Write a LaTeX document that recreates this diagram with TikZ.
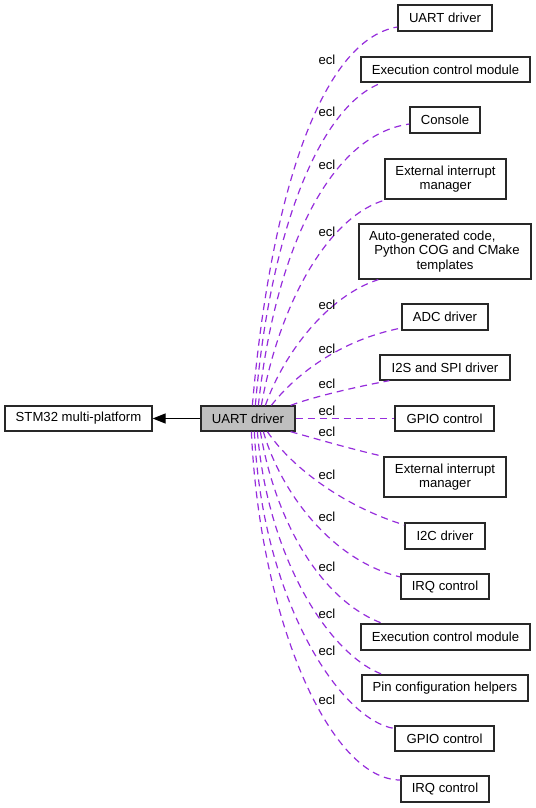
\documentclass[tikz,border=0pt]{standalone}
\usepackage{fontspec}
\setmainfont{Liberation Sans}
\usetikzlibrary{arrows.meta,calc}
\definecolor{edgec}{RGB}{150,45,220}
\definecolor{mainfill}{RGB}{191,191,191}
\definecolor{boxline}{RGB}{40,40,40}
\begin{document}
\begin{tikzpicture}[x=0.75pt,y=-0.75pt,
  box/.style={draw=boxline,line width=0.95pt,inner sep=0pt,align=center,
    font=\fontsize{9.85}{10.8}\selectfont},
  sz/.style 2 args={minimum width=#1*0.75pt,minimum height=#2*0.75pt},
  edge/.style={draw=edgec,line width=0.9pt,dash pattern=on 5.25pt off 3.75pt},
  lbl/.style={font=\fontsize{9.85}{10.8}\selectfont,inner sep=0pt}]
\useasboundingbox (0,0) rectangle (536,808);

% main nodes
\node[box,sz={147}{25}] (s) at (78.5,418.5) {STM32 multi-platform};
\node[box,sz={94}{25},fill=mainfill] (m) at (248,418.5) {UART driver};

% right-hand nodes
\node[box,sz={94}{26}]  (t1)  at (445,18)    {UART driver};
\node[box,sz={169}{25}] (t2)  at (445.5,69.5) {Execution control module};
\node[box,sz={70}{26}]  (t3)  at (445,120)   {Console};
\node[box,sz={121}{40}] (t4)  at (445.5,179) {External interrupt\\manager};
\node[box,sz={172}{55}] (t5)  at (445,251.5) {Auto-generated code,\hspace*{19pt}\\\hspace*{3pt}Python COG and CMake\\templates};
\node[box,sz={86}{26}]  (t6)  at (445,317)   {ADC driver};
\node[box,sz={130}{25}] (t7)  at (445,367.5) {I2S and SPI driver};
\node[box,sz={99}{25}]  (t8)  at (444.5,418.5) {GPIO control};
\node[box,sz={122}{40}] (t9)  at (445,477)   {External interrupt\\manager};
\node[box,sz={80}{26}]  (t10) at (445,536)   {I2C driver};
\node[box,sz={88}{25}]  (t11) at (445,586.5) {IRQ control};
\node[box,sz={169}{26}] (t12) at (445.5,637) {Execution control module};
\node[box,sz={166}{26}] (t13) at (445,688)   {Pin configuration helpers};
\node[box,sz={99}{25}]  (t14) at (444.5,738.5) {GPIO control};
\node[box,sz={88}{26}]  (t15) at (445,789)   {IRQ control};

% arrow to parent
\draw[line width=0.95pt,-{Triangle[length=9.75pt,width=7.5pt]}] (m.west) -- (s.east);

% edges above
\draw[edge] ($(m.north west)+(52,0)$) .. controls (270,200) and (320,40) .. ($(t1.west)+(0,9)$);
\draw[edge] ($(m.north west)+(55,0)$) .. controls (270,230) and (320,105) .. ($(t2.south west)+(22,0)$);
\draw[edge] ($(m.north west)+(58,0)$) .. controls (275,250) and (330,135) .. ($(t3.west)+(0,4)$);
\draw[edge] ($(m.north west)+(61,0)$) .. controls (280,300) and (330,215) .. ($(t4.south west)+(2,0)$);
\draw[edge] ($(m.north west)+(65,0)$) .. controls (285,350) and (330,295) .. ($(t5.south west)+(20,0)$);
\draw[edge] ($(m.north west)+(71,0)$) .. controls (295,375) and (340,340) .. ($(t6.west)+(0,11)$);
\draw[edge] ($(m.north east)+(-5,0)$) .. controls (310,398) and (350,388) .. ($(t7.south west)+(10,0)$);
\draw[edge] (m.east) -- (t8.west);
% edges below
\draw[edge] ($(m.south east)+(-5,0)$) .. controls (320,440) and (355,450) .. (t9.north west);
\draw[edge] ($(m.south west)+(67,0)$) .. controls (290,465) and (340,505) .. ($(t10.west)+(0,-11)$);
\draw[edge] ($(m.south west)+(63,0)$) .. controls (280,490) and (330,560) .. ($(t11.west)+(0,-9.5)$);
\draw[edge] ($(m.south west)+(60,0)$) .. controls (275,520) and (320,600) .. ($(t12.north west)+(22,0)$);
\draw[edge] ($(m.south west)+(57,0)$) .. controls (268,560) and (330,655) .. ($(t13.north west)+(21,0)$);
\draw[edge] ($(m.south west)+(54,0)$) .. controls (262,600) and (340,720) .. ($(t14.west)+(0,-10)$);
\draw[edge] ($(m.south west)+(51,0)$) .. controls (260,620) and (330,780) .. ($(t15.west)+(0,-9)$);

% labels
\foreach \yy/\nm in {60/l1,112/l2,165/l3,232/l4,305/l5,349/l6,384/l7,411/l8,432/l9,475/l10,517/l11,567/l12,614/l13,651/l14,700/l15}
  \node[lbl] (\nm) at (327,\yy) {ecl};
\end{tikzpicture}
\end{document}
